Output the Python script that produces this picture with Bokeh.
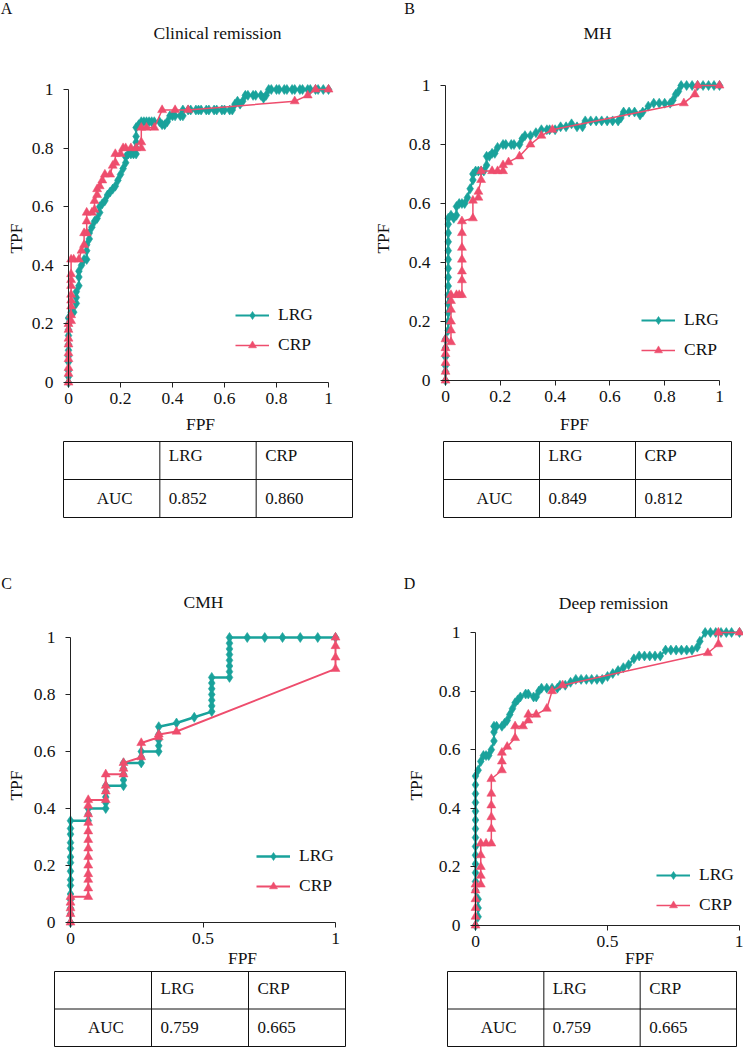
import math
from bokeh.plotting import figure
from bokeh.models import Range1d, FixedTicker, Label, Legend, LegendItem
from bokeh.layouts import row, column
from bokeh.core.properties import value
from bokeh.embed import file_html
from bokeh.resources import INLINE

# ---------------- data (FPF, TPF) ----------------
A_LRG = [(0,0),(0,0.02),(0,0.04),(0,0.07),(0,0.09),(0,0.11),(0,0.13),(0,0.16),(0,0.18),(0,0.20),(0,0.22),
         (0.01,0.24),(0.02,0.24),(0.03,0.27),(0.03,0.29),(0.03,0.31),(0.04,0.33),(0.04,0.36),(0.04,0.38),(0.05,0.40),(0.06,0.42),(0.07,0.42),
         (0.07,0.45),(0.07,0.47),(0.08,0.49),(0.08,0.51),(0.09,0.53),(0.10,0.55),(0.11,0.56),(0.12,0.58),(0.12,0.60),(0.13,0.61),(0.14,0.62),
         (0.15,0.64),(0.16,0.65),(0.17,0.66),(0.18,0.67),(0.19,0.69),(0.20,0.71),(0.21,0.73),(0.22,0.75),(0.22,0.77),(0.23,0.78),(0.24,0.78),
         (0.25,0.78),(0.26,0.78),(0.26,0.80),(0.26,0.82),(0.26,0.84),(0.26,0.87),(0.27,0.88),(0.28,0.89),(0.29,0.89),(0.30,0.89),(0.31,0.89),
         (0.32,0.89),(0.33,0.89),(0.35,0.89),(0.36,0.88),(0.37,0.88),(0.38,0.89),(0.39,0.91),(0.40,0.91),(0.41,0.91),(0.43,0.91),(0.44,0.91),
         (0.44,0.93),(0.46,0.93),(0.47,0.93),(0.49,0.93),(0.50,0.93),(0.51,0.93),(0.53,0.93),(0.54,0.93),(0.56,0.93),(0.57,0.93),(0.59,0.93),
         (0.60,0.93),(0.62,0.93),(0.63,0.93),(0.64,0.95),(0.65,0.96),(0.66,0.95),(0.67,0.96),(0.68,0.98),(0.69,0.98),(0.71,0.98),(0.72,0.98),
         (0.74,0.98),(0.75,0.97),(0.76,0.98),(0.77,1.0),(0.78,1.0),(0.80,1.0),(0.81,1.0),(0.83,1.0),(0.84,1.0),(0.86,1.0),(0.87,1.0),(0.89,1.0),
         (0.90,1.0),(0.92,1.0),(0.93,1.0),(0.95,1.0),(0.96,1.0),(0.98,1.0),(1.0,1.0)]
A_CRP = [(0,0),(0,0.03),(0,0.05),(0,0.08),(0,0.10),(0,0.13),(0,0.15),(0,0.18),(0,0.20),
         (0.01,0.21),(0.01,0.23),(0.01,0.26),(0.01,0.28),(0.01,0.30),(0.01,0.33),(0.01,0.35),(0.01,0.37),(0.01,0.42),(0.02,0.42),(0.04,0.42),
         (0.05,0.45),(0.06,0.47),(0.06,0.51),(0.07,0.51),(0.07,0.55),(0.07,0.58),(0.09,0.58),(0.10,0.59),(0.10,0.62),(0.11,0.64),(0.11,0.66),
         (0.12,0.67),(0.13,0.69),(0.14,0.71),(0.16,0.71),(0.17,0.74),(0.18,0.75),(0.18,0.78),(0.20,0.78),(0.21,0.80),(0.22,0.80),(0.24,0.80),
         (0.26,0.80),(0.28,0.80),(0.28,0.82),(0.28,0.87),(0.30,0.87),(0.33,0.87),(0.36,0.93),(0.41,0.93),(0.46,0.93),(0.87,0.96),(0.92,0.98),
         (0.95,1.0),(1.0,1.0)]
B_LRG = [(0,0),(0,0.03),(0,0.05),(0,0.08),(0,0.11),(0,0.14),(0.01,0.17),(0.01,0.20),(0.01,0.23),(0.01,0.26),(0.01,0.29),(0.01,0.32),
         (0.01,0.35),(0.01,0.38),(0.01,0.41),(0.01,0.44),(0.01,0.47),(0.01,0.50),(0.01,0.53),(0.01,0.55),(0.02,0.56),(0.03,0.55),(0.04,0.56),
         (0.04,0.59),(0.05,0.60),(0.06,0.60),(0.07,0.60),(0.08,0.62),(0.09,0.65),(0.10,0.68),(0.10,0.70),(0.11,0.71),(0.12,0.71),(0.13,0.71),
         (0.14,0.71),(0.15,0.73),(0.15,0.76),(0.16,0.76),(0.17,0.77),(0.18,0.77),(0.19,0.79),(0.21,0.80),(0.22,0.80),(0.24,0.80),(0.25,0.80),
         (0.27,0.80),(0.28,0.82),(0.29,0.83),(0.31,0.83),(0.33,0.84),(0.35,0.85),(0.37,0.85),(0.38,0.85),(0.40,0.85),(0.42,0.86),(0.44,0.86),
         (0.46,0.87),(0.48,0.86),(0.50,0.86),(0.51,0.88),(0.53,0.88),(0.55,0.88),(0.57,0.88),(0.59,0.88),(0.61,0.88),(0.63,0.88),(0.64,0.89),
         (0.65,0.91),(0.67,0.91),(0.69,0.91),(0.71,0.90),(0.72,0.91),(0.74,0.93),(0.76,0.94),(0.78,0.94),(0.80,0.94),(0.82,0.94),(0.83,0.95),
         (0.84,0.97),(0.85,0.98),(0.86,1.0),(0.88,1.0),(0.90,1.0),(0.92,1.0),(0.94,1.0),(0.96,1.0),(0.98,1.0),(1.0,1.0)]
B_CRP = [(0,0),(0,0.03),(0,0.06),(0,0.09),(0,0.11),(0,0.14),(0.02,0.13),(0.02,0.17),(0.02,0.20),(0.02,0.24),(0.02,0.27),(0.02,0.29),
         (0.04,0.29),(0.05,0.29),(0.06,0.29),(0.06,0.34),(0.06,0.37),(0.06,0.41),(0.06,0.45),(0.06,0.50),(0.06,0.54),(0.10,0.55),(0.10,0.61),
         (0.12,0.62),(0.12,0.64),(0.13,0.68),(0.13,0.71),(0.17,0.71),(0.19,0.71),(0.21,0.71),(0.21,0.73),(0.23,0.74),(0.27,0.76),(0.31,0.80),
         (0.35,0.83),(0.39,0.85),(0.87,0.94),(0.91,0.97),(0.92,1.0),(1.0,1.0)]
C_LRG = [(0,0),(0,0.03),(0,0.05),(0,0.08),(0,0.10),(0,0.13),(0,0.15),(0,0.18),(0,0.21),(0,0.23),(0,0.26),(0,0.28),(0,0.31),(0,0.33),
         (0,0.357),(0.067,0.357),(0.067,0.38),(0.067,0.40),(0.133,0.40),(0.133,0.42),(0.133,0.44),(0.133,0.46),(0.133,0.48),(0.2,0.48),
         (0.2,0.50),(0.2,0.52),(0.2,0.54),(0.2,0.56),(0.267,0.56),(0.267,0.58),(0.267,0.60),(0.333,0.60),(0.333,0.62),(0.333,0.64),
         (0.333,0.66),(0.333,0.687),(0.4,0.70),(0.467,0.72),(0.533,0.74),(0.533,0.76),(0.533,0.78),(0.533,0.80),(0.533,0.82),(0.533,0.84),
         (0.533,0.86),(0.6,0.86),(0.6,0.88),(0.6,0.90),(0.6,0.92),(0.6,0.94),(0.6,0.96),(0.6,0.98),(0.6,1.0),(0.667,1.0),(0.733,1.0),
         (0.8,1.0),(0.867,1.0),(0.933,1.0),(1.0,1.0)]
C_CRP = [(0,0),(0,0.03),(0,0.05),(0,0.07),(0,0.09),(0.067,0.09),(0.067,0.12),(0.067,0.15),(0.067,0.17),(0.067,0.20),(0.067,0.23),
         (0.067,0.26),(0.067,0.29),(0.067,0.32),(0.067,0.35),(0.067,0.38),(0.067,0.41),(0.067,0.43),(0.133,0.43),(0.133,0.46),(0.133,0.48),
         (0.133,0.52),(0.2,0.52),(0.2,0.54),(0.2,0.56),(0.267,0.58),(0.267,0.63),(0.333,0.65),(0.333,0.66),(0.4,0.67),(1.0,0.89),
         (1.0,0.93),(1.0,0.97),(1.0,1.0)]
D_LRG = [(0,0),(0.01,0.03),(0.01,0.06),(0.01,0.09),(0,0.12),(0,0.15),(0,0.18),(0,0.21),(0,0.24),(0,0.27),(0,0.30),(0,0.33),(0,0.36),
         (0,0.39),(0,0.42),(0,0.45),(0,0.48),(0,0.51),(0.01,0.53),(0.02,0.56),(0.03,0.58),(0.04,0.58),(0.05,0.58),(0.06,0.60),(0.07,0.63),
         (0.07,0.66),(0.07,0.68),(0.08,0.68),(0.10,0.68),(0.11,0.69),(0.12,0.70),(0.13,0.72),(0.14,0.74),(0.15,0.76),(0.16,0.77),(0.17,0.78),
         (0.19,0.79),(0.20,0.79),(0.22,0.78),(0.23,0.78),(0.24,0.80),(0.25,0.81),(0.27,0.81),(0.29,0.81),(0.31,0.81),(0.32,0.82),(0.34,0.82),
         (0.36,0.83),(0.38,0.84),(0.40,0.84),(0.42,0.84),(0.44,0.84),(0.46,0.84),(0.48,0.84),(0.50,0.85),(0.52,0.86),(0.54,0.87),(0.56,0.88),
         (0.58,0.89),(0.60,0.91),(0.62,0.92),(0.64,0.92),(0.66,0.92),(0.68,0.92),(0.70,0.92),(0.72,0.94),(0.74,0.94),(0.76,0.94),(0.78,0.94),
         (0.80,0.94),(0.82,0.94),(0.84,0.95),(0.85,0.97),(0.87,1.0),(0.89,1.0),(0.91,1.0),(0.93,1.0),(0.95,1.0),(0.97,1.0),(1.0,1.0)]
D_CRP = [(0,0),(0,0.03),(0,0.06),(0,0.09),(0,0.12),(0,0.14),(0.02,0.14),(0.02,0.17),(0.02,0.20),(0.02,0.24),(0.02,0.28),(0.04,0.28),
         (0.06,0.28),(0.06,0.33),(0.06,0.37),(0.06,0.41),(0.06,0.45),(0.06,0.50),(0.10,0.53),(0.10,0.56),(0.10,0.59),(0.12,0.61),(0.15,0.64),
         (0.15,0.68),(0.18,0.68),(0.20,0.70),(0.20,0.72),(0.23,0.72),(0.27,0.74),(0.29,0.80),(0.33,0.82),(0.88,0.93),(0.92,0.96),(0.92,1.0),
         (1.0,1.0)]

TITLES = ["Clinical remission", "MH", "CMH", "Deep remission"]
LETTERS = ["A", "B", "C", "D"]
SERIES = ["LRG", "CRP"]
AUC_LRG = [0.852, 0.849, 0.759, 0.759]
AUC_CRP = [0.860, 0.812, 0.665, 0.665]
TABLE_HEADER = ["", "LRG", "CRP"]
ROW_LABEL = "AUC"
Y_TICKS = [0, 0.2, 0.4, 0.6, 0.8, 1]
Y_TICK_LABELS = ["0", "0.2", "0.4", "0.6", "0.8", "1"]
X_TICKS_FINE = [0, 0.2, 0.4, 0.6, 0.8, 1]
X_TICK_LABELS_FINE = ["0", "0.2", "0.4", "0.6", "0.8", "1"]
X_TICKS_COARSE = [0, 0.5, 1]
X_TICK_LABELS_COARSE = ["0", "0.5", "1"]

# ---------------- style / layout (page pixel positions) ----------------
TEAL = "#19A29B"
PINK = "#EE4D6D"
INK = "#111111"
FONT = "Liberation Serif"
FS = "17.5px"

PANELS = [
    dict(ox=0, oy=0, w=364, h=436, px0=68, px1=328, py1=89, py0=382, title=(217, 32), letter=(6, 8),
         tpf=(15, 238), fpf=(200, 423), leg=(235, 342), lw=(2, 1.5), fine=True),
    dict(ox=364, oy=0, w=379, h=436, px0=445, px1=719, py1=85, py0=380, title=(597, 32), letter=(409, 8),
         tpf=(382, 238), fpf=(574, 423), leg=(641, 347), lw=(2, 1.5), fine=True),
    dict(ox=0, oy=530, w=364, h=436, px0=70, px1=335, py1=637, py0=922, title=(203, 601), letter=(6, 583),
         tpf=(15, 785), fpf=(242, 957), leg=(256, 883), lw=(2.5, 2), fine=False),
    dict(ox=364, oy=530, w=379, h=436, px0=475, px1=739, py1=632, py0=925, title=(613, 602), letter=(409, 583),
         tpf=(415, 785), fpf=(639, 957), leg=(656, 902), lw=(2, 1.5), fine=False),
]
TABLES = [
    dict(ox=0, oy=436, w=364, h=94, l=63, r=352, t=441, b=517, hy=1.64),
    dict(ox=364, oy=436, w=379, h=94, l=443, r=731, t=440, b=517, hy=1.64),
    dict(ox=0, oy=966, w=364, h=81, l=54, r=345, t=971, b=1046, hy=1.56),
    dict(ox=364, oy=966, w=379, h=81, l=447, r=736, t=971, b=1046, hy=1.56),
]


def make_roc(spec, lrg, crp, title, letter):
    ox, oy, w, h = spec["ox"], spec["oy"], spec["w"], spec["h"]
    X0 = spec["px0"] - ox
    X1 = spec["px1"] - ox
    Y1 = spec["py1"] - oy
    Y0 = spec["py0"] - oy
    ux = X1 - X0
    uy = Y0 - Y1
    # the frame fills the whole figure; data 0..1 lands on the reference pixels
    xr = Range1d(-X0 / ux, (w - X0) / ux)
    yr = Range1d((Y0 - h) / uy, Y0 / uy)
    p = figure(width=w, height=h, x_range=xr, y_range=yr, toolbar_location=None,
               output_backend="svg", title=None,
               min_border_left=0, min_border_right=0, min_border_top=0, min_border_bottom=0)
    p.outline_line_color = None
    p.xgrid.visible = False
    p.ygrid.visible = False

    def dx(px):
        return (px - ox - X0) / ux

    def dy(py):
        return (Y0 - (py - oy)) / uy

    if spec["fine"]:
        xt, xl = X_TICKS_FINE, X_TICK_LABELS_FINE
    else:
        xt, xl = X_TICKS_COARSE, X_TICK_LABELS_COARSE
    p.xaxis.ticker = FixedTicker(ticks=xt)
    p.xaxis.major_label_overrides = {t: s for t, s in zip(xt, xl)}
    p.yaxis.ticker = FixedTicker(ticks=Y_TICKS)
    p.yaxis.major_label_overrides = {t: s for t, s in zip(Y_TICKS, Y_TICK_LABELS)}
    for ax in (p.xaxis, p.yaxis):
        ax.fixed_location = 0
        ax.bounds = (0, 1)
        ax.axis_line_color = "#222222"
        ax.axis_line_width = 1
        ax.major_tick_line_color = "#222222"
        ax.major_tick_out = 5
        ax.major_tick_in = 0
        ax.minor_tick_line_color = None
        ax.major_label_text_font = FONT
        ax.major_label_text_font_size = FS
        ax.major_label_text_color = INK
    p.xaxis.major_label_standoff = 5
    p.yaxis.major_label_standoff = 10

    lx, ly = zip(*lrg)
    cx, cy = zip(*crp)
    lw1, lw2 = spec["lw"]
    l1 = p.line(list(lx), list(ly), line_color=TEAL, line_width=lw1)
    s1 = p.scatter(list(lx), list(ly), marker="diamond", size=10,
                   fill_color=TEAL, line_color=TEAL, line_width=0.6)
    l2 = p.line(list(cx), list(cy), line_color=PINK, line_width=lw2)
    s2 = p.scatter(list(cx), list(cy), marker="triangle", size=9,
                   fill_color=PINK, line_color=PINK, line_width=0.5)

    gx, gy = spec["leg"]
    loc_x = gx - ox
    loc_y = h - (gy - oy) - 13
    legend = Legend(items=[LegendItem(label=SERIES[0], renderers=[l1, s1]),
                           LegendItem(label=SERIES[1], renderers=[l2, s2])],
                    location=(loc_x, loc_y), orientation="vertical",
                    glyph_width=34, glyph_height=20, label_height=20, label_standoff=9,
                    spacing=9, padding=0, margin=0, border_line_color=None,
                    background_fill_alpha=0, label_text_font=FONT,
                    label_text_font_size=FS, label_text_color=INK)
    p.add_layout(legend)

    txt = dict(text_font=FONT, text_color=INK, text_align="center", text_baseline="middle")
    tx, ty = spec["title"]
    p.add_layout(Label(x=dx(tx), y=dy(ty), text=title, text_font_size=FS, **txt))
    lx_, ly_ = spec["letter"]
    p.add_layout(Label(x=dx(lx_), y=dy(ly_), text=letter, text_font_size="16px", **txt))
    tpx, tpy = spec["tpf"]
    p.add_layout(Label(x=dx(tpx), y=dy(tpy), text="TPF", angle=math.pi / 2, text_font_size=FS, **txt))
    fpx, fpy = spec["fpf"]
    p.add_layout(Label(x=dx(fpx), y=dy(fpy), text="FPF", text_font_size=FS, **txt))
    return p


def make_table(spec, auc_l, auc_c):
    ox, oy, w, h = spec["ox"], spec["oy"], spec["w"], spec["h"]
    fl = spec["l"] - ox
    fr = spec["r"] - ox
    ft = spec["t"] - oy
    fb = spec["b"] - oy
    ncol = len(TABLE_HEADER)
    nrow = 2
    p = figure(width=w, height=h, x_range=Range1d(0, ncol), y_range=Range1d(0, nrow),
               toolbar_location=None, output_backend="svg", title=None,
               x_axis_location=None, y_axis_location=None,
               min_border_left=fl, min_border_right=w - fr,
               min_border_top=ft, min_border_bottom=h - fb)
    p.xgrid.visible = False
    p.ygrid.visible = False
    p.outline_line_color = INK
    p.outline_line_width = 1
    xs0 = [c for c in range(1, ncol)] + [0]
    ys0 = [0] * (ncol - 1) + [1]
    xs1 = [c for c in range(1, ncol)] + [ncol]
    ys1 = [nrow] * (ncol - 1) + [1]
    p.segment(x0=xs0, y0=ys0, x1=xs1, y1=ys1, line_color=INK, line_width=1)
    colw = (fr - fl) / ncol
    off = 9 / colw
    hy = spec["hy"]
    common = dict(text_font=value(FONT), text_font_size=value("17px"), text_color=INK,
                  text_baseline="middle")
    p.text(x=[1 + off, 2 + off], y=[hy, hy], text=TABLE_HEADER[1:], text_align="left", **common)
    p.text(x=[1 + off, 2 + off], y=[0.5, 0.5], text=["%.3f" % auc_l, "%.3f" % auc_c],
           text_align="left", **common)
    p.text(x=[0.5 + 3 / colw], y=[0.5], text=[ROW_LABEL], text_align="center", **common)
    return p


curves = [(A_LRG, A_CRP), (B_LRG, B_CRP), (C_LRG, C_CRP), (D_LRG, D_CRP)]
plots = [make_roc(PANELS[i], curves[i][0], curves[i][1], TITLES[i], LETTERS[i]) for i in range(4)]
tables = [make_table(TABLES[i], AUC_LRG[i], AUC_CRP[i]) for i in range(4)]

layout = column(row(plots[0], plots[1]), row(tables[0], tables[1]),
                row(plots[2], plots[3]), row(tables[2], tables[3]))

open("out.html", "w").write(file_html(layout, INLINE))
